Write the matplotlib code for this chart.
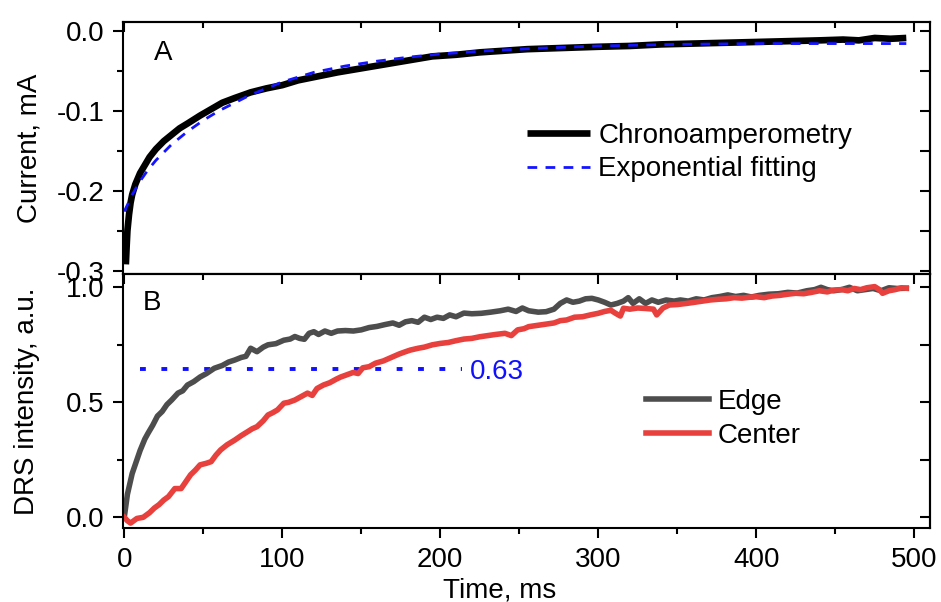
import matplotlib
matplotlib.use("Agg")
import matplotlib.pyplot as plt
from matplotlib.ticker import MultipleLocator, FormatStrFormatter

# ============================================================
# DANE
# ============================================================

time_ca = [1, 1.5, 2, 3, 4, 5, 7, 10, 13, 16, 20, 25, 30, 35, 40, 48, 55, 62,
           70, 80, 90, 100, 110, 120, 135, 150, 165, 180, 195, 210, 225, 240,
           255, 270, 285, 300, 320, 340, 360, 380, 400, 420, 440, 455, 465,
           475, 485, 495]
current_ca = [-0.292, -0.27, -0.25, -0.23, -0.215, -0.205, -0.192, -0.178,
              -0.168, -0.158, -0.148, -0.138, -0.130, -0.122, -0.116, -0.106,
              -0.098, -0.090, -0.084, -0.077, -0.072, -0.068, -0.062, -0.058,
              -0.052, -0.047, -0.042, -0.037, -0.032, -0.030, -0.027, -0.025,
              -0.023, -0.022, -0.021, -0.020, -0.019, -0.017, -0.016, -0.015,
              -0.014, -0.013, -0.012, -0.011, -0.012, -0.009, -0.010, -0.009]

time_fit = [0, 5, 10, 15, 20, 30, 40, 50, 60, 70, 80, 100, 120, 140, 160, 180,
            200, 230, 260, 300, 350, 400, 450, 495]
current_fit = [-0.226, -0.205, -0.188, -0.174, -0.162, -0.142, -0.126, -0.112,
               -0.100, -0.090, -0.080, -0.064, -0.052, -0.044, -0.038, -0.033,
               -0.029, -0.025, -0.022, -0.019, -0.017, -0.016, -0.016, -0.016]

time_edge = [0, 2, 5, 8, 10, 13, 15, 18, 21, 24, 27, 30, 34, 37, 40, 44, 48, 52,
             57, 62, 66, 70, 74, 77, 80, 84, 88, 91, 96, 101, 105, 108, 111,
             114, 117, 120, 123, 127, 131, 135, 140, 145, 150, 155, 160, 165,
             170, 174, 178, 182, 186, 190, 194, 198, 202, 206, 210, 215, 220,
             226, 232, 238, 243, 248, 252, 256, 262, 267, 272, 276, 280, 284,
             288, 292, 296, 300, 304, 308, 312, 316, 319, 322, 326, 330, 334,
             338, 343, 348, 352, 357, 362, 367, 372, 377, 382, 387, 392, 397,
             402, 408, 414, 420, 426, 432, 437, 441, 445, 449, 454, 459, 464,
             469, 474, 479, 484, 489, 495]
drs_edge = [0.00, 0.10, 0.19, 0.25, 0.29, 0.34, 0.365, 0.40, 0.44, 0.46, 0.49,
            0.51, 0.54, 0.55, 0.575, 0.59, 0.61, 0.625, 0.648, 0.66, 0.675,
            0.684, 0.695, 0.70, 0.735, 0.72, 0.74, 0.75, 0.755, 0.77, 0.775,
            0.786, 0.778, 0.774, 0.80, 0.807, 0.795, 0.81, 0.80, 0.81, 0.812,
            0.81, 0.815, 0.825, 0.83, 0.838, 0.845, 0.835, 0.85, 0.855, 0.848,
            0.87, 0.86, 0.87, 0.865, 0.88, 0.872, 0.888, 0.885, 0.887, 0.892,
            0.898, 0.905, 0.895, 0.91, 0.898, 0.892, 0.894, 0.905, 0.93, 0.945,
            0.935, 0.94, 0.95, 0.952, 0.945, 0.935, 0.923, 0.93, 0.94, 0.955,
            0.93, 0.95, 0.93, 0.945, 0.935, 0.945, 0.94, 0.945, 0.94, 0.95,
            0.945, 0.955, 0.96, 0.967, 0.96, 0.965, 0.958, 0.965, 0.97, 0.972,
            0.978, 0.975, 0.985, 0.99, 1.0, 0.99, 0.985, 0.99, 1.0, 0.985,
            0.99, 0.995, 0.985, 0.998, 0.995, 0.996]

time_center = [0, 2, 4, 6, 8, 12, 16, 19, 22, 25, 28, 32, 36, 39, 42, 45, 48,
               52, 55, 58, 61, 65, 70, 74, 78, 81, 84, 88, 91, 94, 97, 101, 104,
               108, 112, 116, 119, 122, 126, 130, 134, 137, 141, 145, 148, 151,
               155, 159, 164, 169, 174, 178, 181, 186, 190, 195, 200, 205, 210,
               215, 220, 225, 230, 235, 241, 245, 249, 253, 256, 262, 267, 272,
               276, 280, 285, 290, 295, 300, 304, 308, 311, 314, 316, 320, 325,
               330, 335, 337, 341, 345, 350, 356, 361, 366, 371, 376, 381, 386,
               391, 396, 400, 405, 410, 415, 420, 425, 430, 435, 440, 445, 449,
               454, 458, 462, 466, 470, 475, 478, 480, 484, 488, 492, 495]
drs_center = [0.00, -0.015, -0.025, -0.015, -0.005, 0.00, 0.02, 0.04, 0.055,
              0.075, 0.09, 0.125, 0.125, 0.155, 0.185, 0.205, 0.228, 0.235,
              0.242, 0.27, 0.293, 0.315, 0.336, 0.355, 0.372, 0.385, 0.394,
              0.42, 0.445, 0.455, 0.467, 0.496, 0.50, 0.51, 0.525, 0.54, 0.53,
              0.56, 0.575, 0.585, 0.60, 0.61, 0.62, 0.63, 0.625, 0.65, 0.655,
              0.67, 0.68, 0.695, 0.71, 0.72, 0.727, 0.735, 0.74, 0.75, 0.756,
              0.76, 0.768, 0.775, 0.778, 0.785, 0.79, 0.795, 0.80, 0.79, 0.815,
              0.82, 0.829, 0.835, 0.84, 0.845, 0.855, 0.858, 0.87, 0.872, 0.88,
              0.887, 0.895, 0.90, 0.887, 0.875, 0.909, 0.905, 0.91, 0.908,
              0.905, 0.88, 0.91, 0.923, 0.925, 0.93, 0.935, 0.94, 0.945, 0.948,
              0.95, 0.955, 0.953, 0.957, 0.959, 0.955, 0.962, 0.965, 0.97,
              0.974, 0.972, 0.978, 0.985, 0.98, 0.988, 0.99, 0.985, 0.995, 0.99,
              0.998, 1.003, 0.99, 0.974, 0.985, 0.99, 0.998, 0.996]

level_x = [10, 214]
level_y = [0.645, 0.645]
level_label = "0.63"

# ============================================================
# STYL
# ============================================================

plt.rcParams["font.family"] = ["Liberation Sans", "DejaVu Sans"]
plt.rcParams["font.size"] = 20
plt.rcParams["axes.unicode_minus"] = False
plt.rcParams["axes.linewidth"] = 1.5

fig = plt.figure(figsize=(9.41, 6.02), dpi=100)
ax_a = fig.add_axes([0.1307, 0.5449, 0.8576, 0.4186])
ax_b = fig.add_axes([0.1307, 0.1229, 0.8576, 0.4220])


def set_ticks(axis_obj, direction):
    axis_obj.tick_params(which="both", direction=direction, width=1.5)
    axis_obj.tick_params(which="major", length=7)
    axis_obj.tick_params(which="minor", length=4)


def style_axis(ax, y_minor):
    ax.set_xlim(-0.8, 510)
    ax.xaxis.set_major_locator(MultipleLocator(100))
    ax.xaxis.set_minor_locator(MultipleLocator(50))
    set_ticks(ax, "out")
    ax.tick_params(axis="y", which="both", right=False, pad=6.5)
    ax.tick_params(axis="x", which="both", top=False, pad=7)
    # gorna i prawa os z tickami do srodka
    top = ax.secondary_xaxis("top")
    top.xaxis.set_major_locator(MultipleLocator(100))
    top.xaxis.set_minor_locator(MultipleLocator(50))
    set_ticks(top, "in")
    top.tick_params(labeltop=False)
    right = ax.secondary_yaxis("right")
    right.yaxis.set_major_locator(MultipleLocator(y_minor))
    set_ticks(right, "in")
    right.tick_params(labelright=False)


# ============================================================
# PANEL A
# ============================================================

ax_a.plot(time_ca, current_ca, color="black", lw=4.8,
          label="Chronoamperometry", solid_capstyle="butt")
ax_a.plot(time_fit, current_fit, color="#1414ff", lw=2.0,
          dashes=(3.5, 3), label="Exponential fitting")
ax_a.set_ylim(-0.304, 0.011)
ax_a.yaxis.set_major_locator(MultipleLocator(0.1))
ax_a.yaxis.set_minor_locator(MultipleLocator(0.05))
ax_a.yaxis.set_major_formatter(FormatStrFormatter("%.1f"))
style_axis(ax_a, 0.05)
ax_a.tick_params(axis="x", which="both", bottom=False, labelbottom=False)
ax_a.set_ylabel("Current, mA")
ax_a.yaxis.set_label_coords(-0.1, 0.5)
ax_a.text(24.5, -0.028, "A", ha="center", va="center")
ax_a.legend(loc="upper left", bbox_to_anchor=(0.5006, 0.601), frameon=False,
            borderpad=0, borderaxespad=0, handlelength=2.27,
            handletextpad=0.3, labelspacing=0.28)

# ============================================================
# PANEL B
# ============================================================

ax_b.plot(level_x, level_y, color="#1010ff", lw=2.8, dashes=(1.5, 4))
ax_b.text(219, 0.63, level_label, color="#1010ff", ha="left", va="center")
ax_b.plot(time_edge, drs_edge, color="#4d4d4d", lw=4.0, label="Edge")
ax_b.plot(time_center, drs_center, color="#e8403c", lw=4.0, label="Center")
ax_b.set_ylim(-0.0465, 1.058)
ax_b.yaxis.set_major_locator(MultipleLocator(0.5))
ax_b.yaxis.set_minor_locator(MultipleLocator(0.25))
ax_b.yaxis.set_major_formatter(FormatStrFormatter("%.1f"))
style_axis(ax_b, 0.25)
ax_b.set_ylabel("DRS intensity, a.u.")
ax_b.yaxis.set_label_coords(-0.103, 0.5)
ax_b.set_xlabel("Time, ms")
ax_b.xaxis.set_label_coords(0.467, -0.193)
ax_b.xaxis.label.set_va("top")
ax_b.text(17.5, 0.93, "B", ha="center", va="center")
ax_b.legend(loc="upper left", bbox_to_anchor=(0.648, 0.549), frameon=False,
            borderpad=0, borderaxespad=0, handlelength=2.27,
            handletextpad=0.3, labelspacing=0.3)

fig.savefig("out.png", dpi=100)
